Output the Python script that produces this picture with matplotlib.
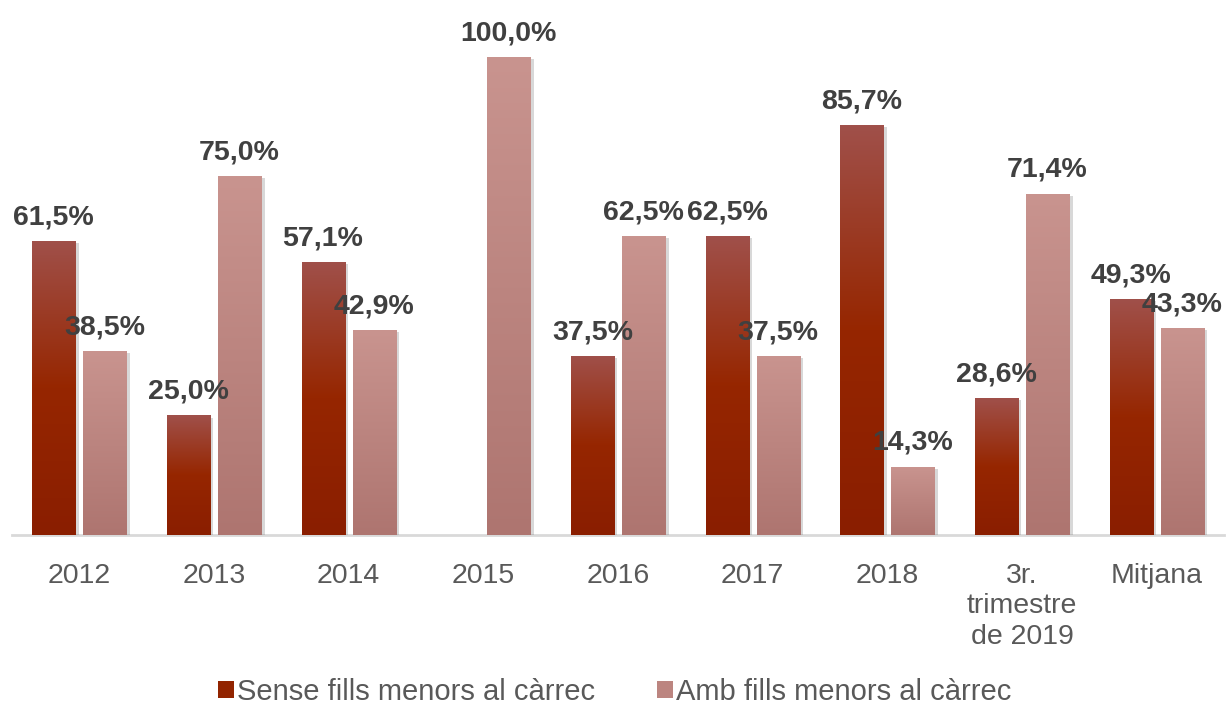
import numpy as np
import matplotlib
matplotlib.use('Agg')
import matplotlib.pyplot as plt
from matplotlib.colors import LinearSegmentedColormap
import matplotlib.patheffects as pe
from matplotlib.patches import Patch

categories = ['2012', '2013', '2014', '2015', '2016', '2017', '2018',
              '3r.\ntrimestre\nde 2019', 'Mitjana']
sense = [61.5, 25.0, 57.1, 0.0, 37.5, 62.5, 85.7, 28.6, 49.3]
amb = [38.5, 75.0, 42.9, 100.0, 62.5, 37.5, 14.3, 71.4, 43.3]
series_names = ['Sense fills menors al càrrec', 'Amb fills menors al càrrec']

plt.rcParams['font.family'] = ['Liberation Sans', 'DejaVu Sans']

dark_cmap = LinearSegmentedColormap.from_list(
    'dark', [(0.0, '#8A1E00'), (0.5, '#962600'), (1.0, '#A0504A')])
pink_cmap = LinearSegmentedColormap.from_list(
    'pink', [(0.0, '#AE7570'), (1.0, '#C9948F')])

fig = plt.figure(figsize=(12.29, 7.07), dpi=100)
ax = fig.add_axes([12 / 1229, 1 - 535 / 707, 1212 / 1229, 526 / 707])

x = np.arange(len(categories))
w = 0.32
off = 0.19
shadow = [pe.SimplePatchShadow(offset=(2.5, -1.5), shadow_rgbFace='#808080', alpha=0.3), pe.Normal()]

bars1 = ax.bar(x - off, sense, w, color='#922400', zorder=2, path_effects=shadow)
bars2 = ax.bar(x + off, amb, w, color='#BC8580', zorder=2, path_effects=shadow)

grad = np.linspace(0, 1, 256).reshape(-1, 1)
for bars, cmap in ((bars1, dark_cmap), (bars2, pink_cmap)):
    for b in bars:
        h = b.get_height()
        if h <= 0:
            continue
        bx = b.get_x()
        bw = b.get_width()
        im = ax.imshow(grad, extent=[bx, bx + bw, 0, h], origin='lower',
                       cmap=cmap, aspect='auto', zorder=2.1)
        im.set_clip_path(b)

for bars, vals in ((bars1, sense), (bars2, amb)):
    for b, v in zip(bars, vals):
        if v <= 0:
            continue
        ax.annotate(f"{v:.1f}%".replace('.', ','),
                    xy=(b.get_x() + b.get_width() / 2, v),
                    xytext=(0, 12), textcoords='offset points',
                    ha='center', va='baseline', fontsize=20.5,
                    fontweight='bold', color='#404040', zorder=5)

ax.set_xlim(-0.5, len(categories) - 0.5)
ax.set_ylim(0, 110)
ax.set_xticks(x)
ax.set_xticklabels(categories, fontsize=20.5, color='#595959', linespacing=1.22)
ax.tick_params(axis='x', length=0, pad=20)
ax.set_yticks([])
for s in ['top', 'right', 'left']:
    ax.spines[s].set_visible(False)
ax.spines['bottom'].set_color('#D9D9D9')
ax.spines['bottom'].set_linewidth(2)
ax.spines['bottom'].set_zorder(1)

handles = [Patch(facecolor='#922400', edgecolor='none'),
           Patch(facecolor='#BC8580', edgecolor='none')]
fig.legend(handles, series_names, loc='center', bbox_to_anchor=(0.5, 1 - 692 / 707),
           ncol=2, frameon=False, fontsize=21, handlelength=0.55, handleheight=0.55,
           handletextpad=0.12, columnspacing=2.1, labelcolor='#595959')

fig.savefig('out.png', dpi=100)
